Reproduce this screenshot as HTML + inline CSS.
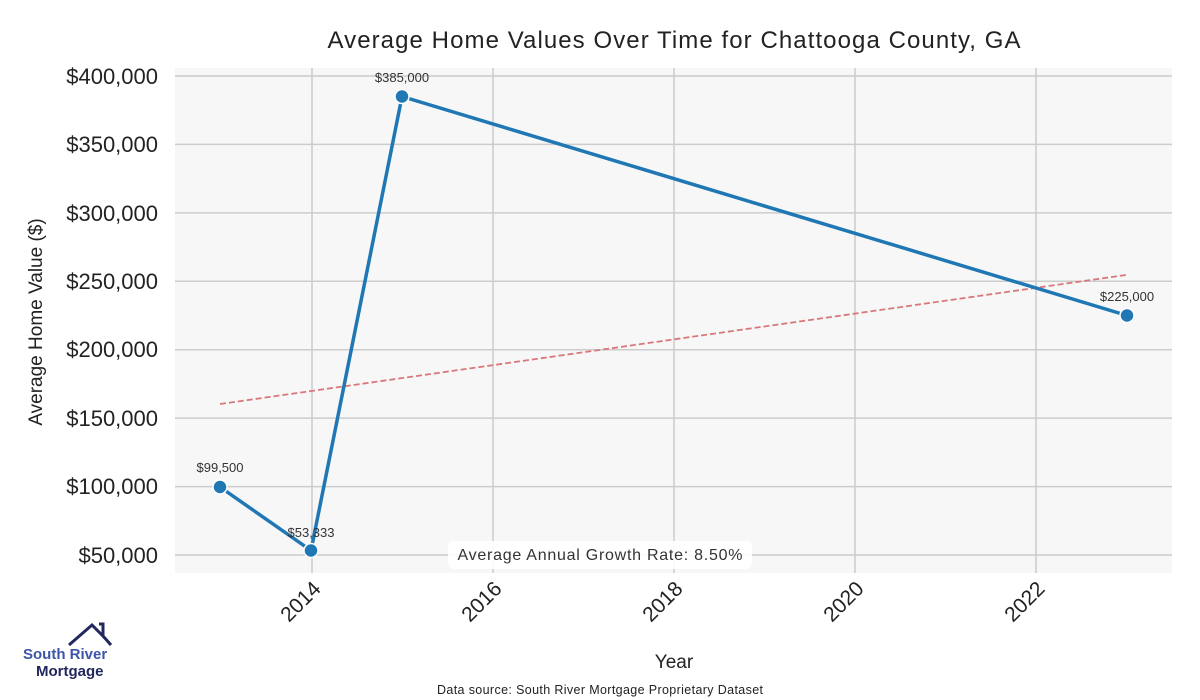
<!DOCTYPE html>
<html><head><meta charset="utf-8"><style>body{margin:0;background:#fff}svg{display:block}</style></head>
<body>
<svg width="1200" height="700" xmlns="http://www.w3.org/2000/svg" font-family="Liberation Sans, DejaVu Sans, sans-serif">
<rect x="175" y="68" width="997" height="505" fill="#f7f7f7"/>
<g stroke="#cccccc" stroke-width="1.5">
<line x1="175" x2="1172" y1="76" y2="76"/><line x1="175" x2="1172" y1="144.4" y2="144.4"/>
<line x1="175" x2="1172" y1="212.9" y2="212.9"/><line x1="175" x2="1172" y1="281.3" y2="281.3"/>
<line x1="175" x2="1172" y1="349.7" y2="349.7"/><line x1="175" x2="1172" y1="418.1" y2="418.1"/>
<line x1="175" x2="1172" y1="486.6" y2="486.6"/><line x1="175" x2="1172" y1="555" y2="555"/>
<line x1="312" x2="312" y1="68" y2="573"/><line x1="493" x2="493" y1="68" y2="573"/>
<line x1="674" x2="674" y1="68" y2="573"/><line x1="855" x2="855" y1="68" y2="573"/>
<line x1="1036" x2="1036" y1="68" y2="573"/>
</g>
<line x1="220" y1="404" x2="1126" y2="275" stroke="#d9787c" stroke-width="1.8" stroke-dasharray="6,3"/>
<polyline points="220,487 311,550.5 402,96.5 1127,315.5" fill="none" stroke="#1f77b4" stroke-width="3.5" stroke-linejoin="round"/>
<g fill="#1f77b4" stroke="#fff" stroke-width="1.5">
<circle cx="220" cy="487" r="7"/><circle cx="311" cy="550.5" r="7"/><circle cx="402" cy="96.5" r="7"/><circle cx="1127" cy="315.5" r="7"/>
</g>
<g font-size="13" fill="#333" text-anchor="middle">
<text x="220" y="472">$99,500</text><text x="311" y="537">$53,333</text>
<text x="402" y="82">$385,000</text><text x="1127" y="301">$225,000</text>
</g>
<rect x="448" y="541" width="304" height="28" rx="6" fill="#fff" opacity="0.9"/>
<text x="600" y="560" font-size="16" fill="#333" text-anchor="middle" textLength="285">Average Annual Growth Rate: 8.50%</text>
<g font-size="22" fill="#222" text-anchor="end">
<text x="158" y="84">$400,000</text><text x="158" y="152">$350,000</text><text x="158" y="221">$300,000</text>
<text x="158" y="289">$250,000</text><text x="158" y="357">$200,000</text><text x="158" y="426">$150,000</text>
<text x="158" y="494">$100,000</text><text x="158" y="563">$50,000</text>
</g>
<g font-size="21" fill="#222" text-anchor="end">
<text transform="translate(322,590) rotate(-45)">2014</text>
<text transform="translate(503,590) rotate(-45)">2016</text>
<text transform="translate(684,590) rotate(-45)">2018</text>
<text transform="translate(865,590) rotate(-45)">2020</text>
<text transform="translate(1046,590) rotate(-45)">2022</text>
</g>
<text x="674" y="48" font-size="24" fill="#222" text-anchor="middle" textLength="693">Average Home Values Over Time for Chattooga County, GA</text>
<text x="674" y="668" font-size="19" fill="#222" text-anchor="middle">Year</text>
<text transform="translate(42,322) rotate(-90)" font-size="19" fill="#222" text-anchor="middle">Average Home Value ($)</text>
<text x="600" y="694" font-size="12.5" fill="#222" text-anchor="middle" textLength="326">Data source: South River Mortgage Proprietary Dataset</text>
<polyline points="69,645 92,625 103,636 103,624 99,624" fill="none" stroke="#22285e" stroke-width="3"/>
<line x1="103" y1="636" x2="111" y2="645" stroke="#22285e" stroke-width="3"/>
<text x="23" y="659" font-size="15" font-weight="bold" fill="#3d55a8">South River</text>
<text x="36" y="676" font-size="15" font-weight="bold" fill="#22285e">Mortgage</text>
</svg>
</body></html>
